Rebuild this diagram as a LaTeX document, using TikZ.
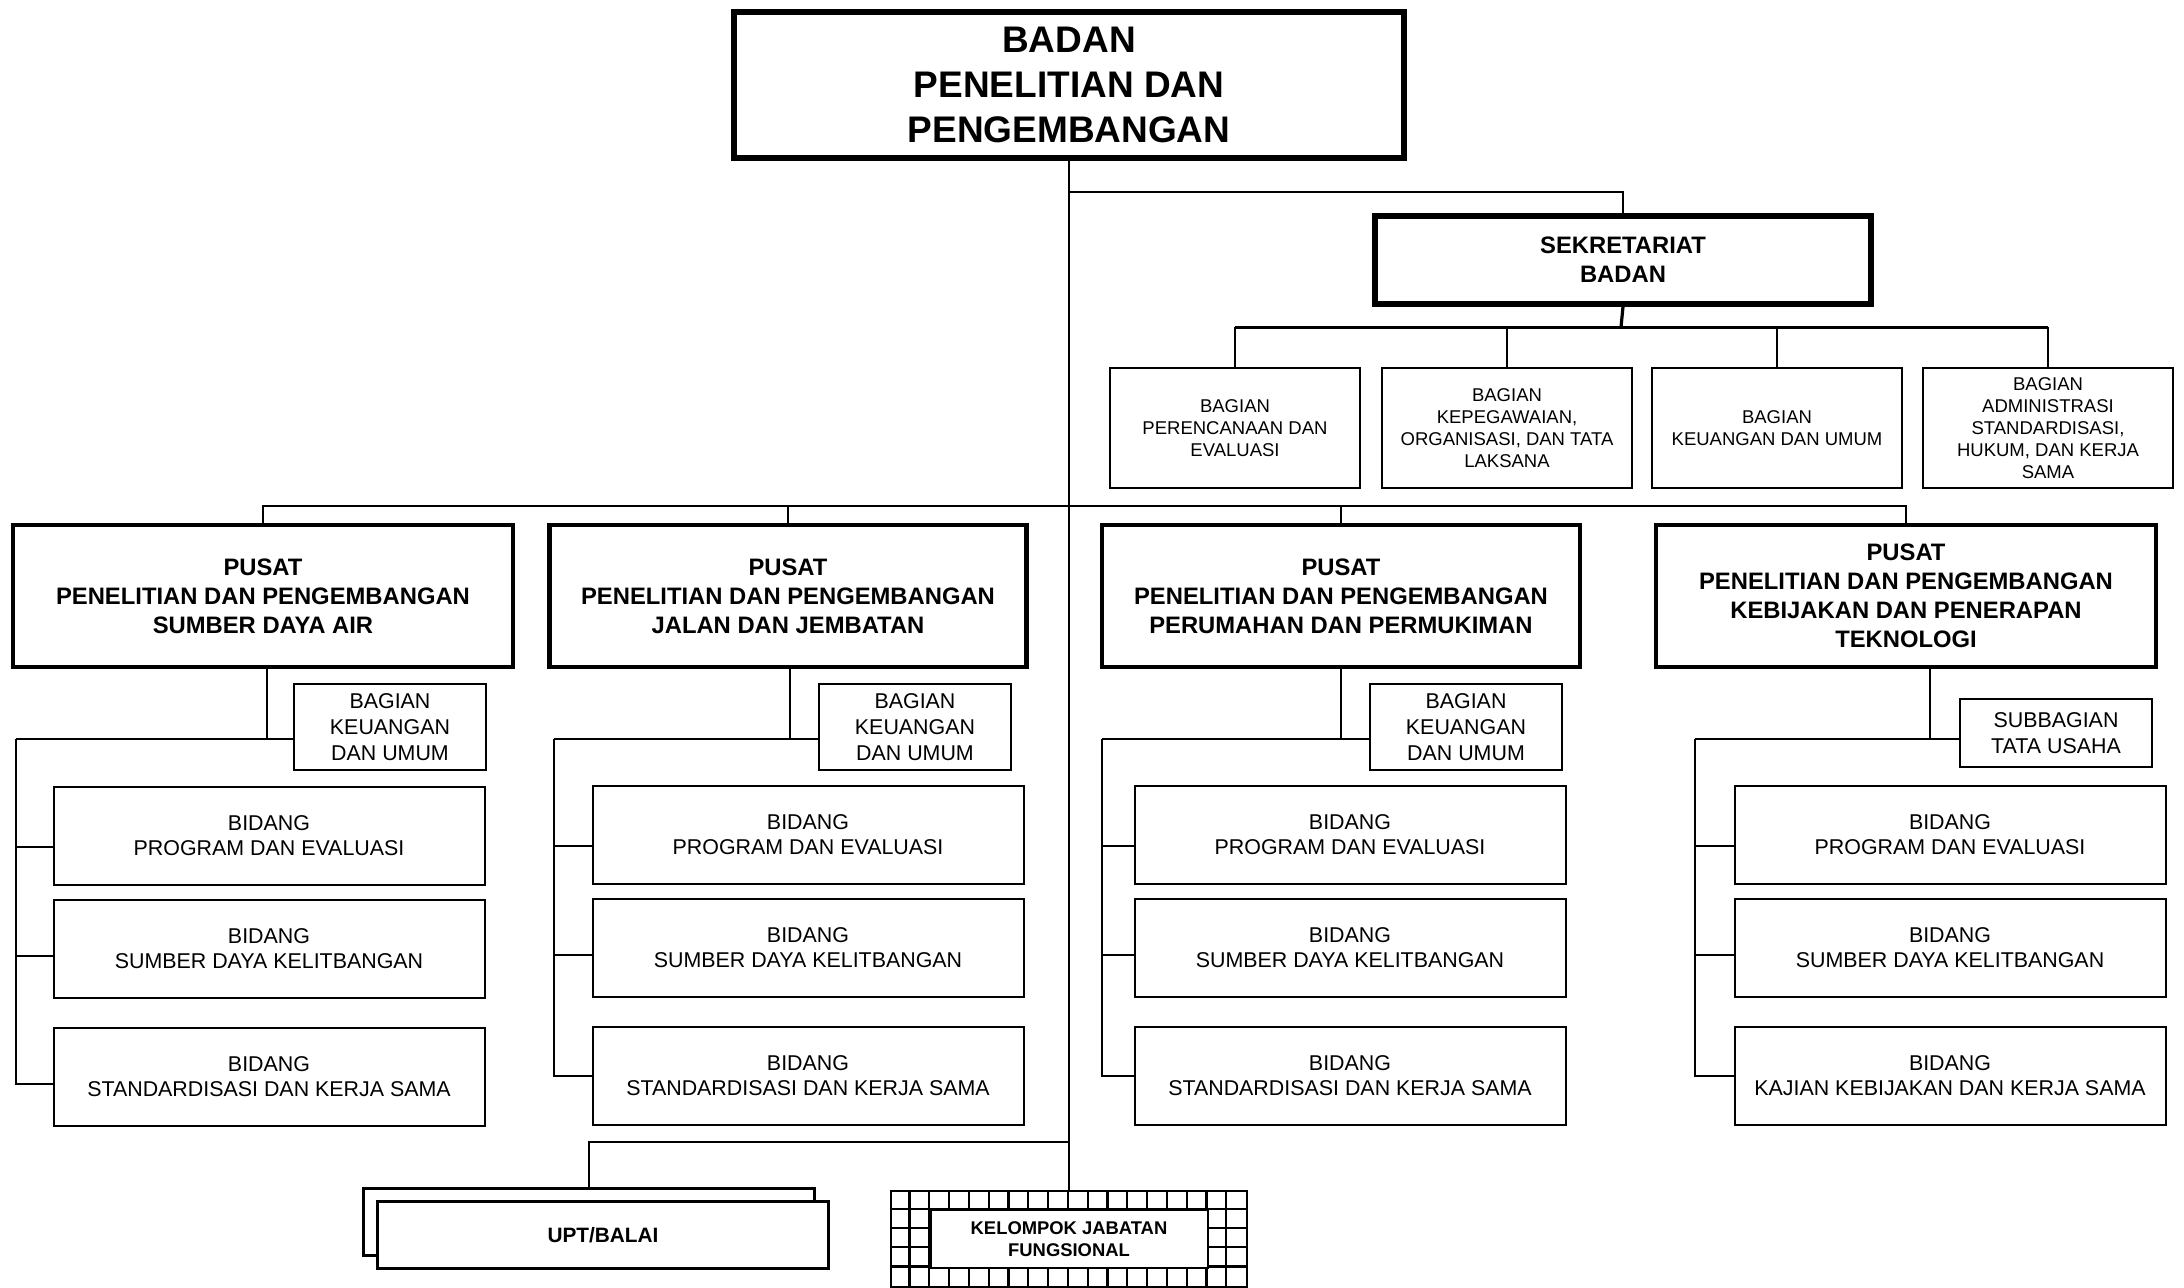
\documentclass[tikz,border=0pt]{standalone}
\usepackage{fontspec}
\setmainfont{Liberation Sans}
\usetikzlibrary{positioning}

\begin{document}
\begin{tikzpicture}[x=0.5pt, y=-0.5pt, node distance=7pt,
  kepala/.style={draw, line width=3pt, align=center, inner sep=0pt, font=\bfseries\fontsize{18.5}{22.3}\selectfont},
  pusat/.style={draw, line width=2.2pt, align=center, inner sep=0pt, minimum height=71pt, font=\bfseries\fontsize{11.9}{14.5}\selectfont},
  bagian/.style={draw, line width=1pt, align=center, inner sep=0pt, minimum width=125pt, minimum height=60pt, font=\fontsize{9.25}{11}\selectfont},
  keuangan/.style={draw, line width=1pt, align=center, inner sep=0pt, minimum width=96pt, minimum height=43pt, font=\fontsize{10.7}{13}\selectfont},
  bidang/.style={draw, line width=1pt, align=center, inner sep=0pt, minimum width=215.5pt, minimum height=49pt, font=\fontsize{10.7}{12.5}\selectfont},
  upt/.style={draw, line width=1.3pt, fill=white, inner sep=0pt, minimum width=225.5pt, minimum height=33.5pt, font=\bfseries\fontsize{10.4}{12}\selectfont},
  garis/.style={line width=1pt}]
\useasboundingbox (0,0) rectangle (2184,1287);

% pimpinan dan sekretariat
\node[kepala, minimum width=335pt, minimum height=73pt] (badan) at (1069,85) {BADAN\\PENELITIAN DAN\\PENGEMBANGAN};
\node[pusat, line width=2.8pt, minimum width=248pt, minimum height=44pt] (sekr) at (1623,260) {SEKRETARIAT\\BADAN};

\node[bagian] (bg1) at (1235,428) {BAGIAN\\PERENCANAAN DAN\\EVALUASI};
\node[bagian] (bg2) at (1507,428) {BAGIAN\\KEPEGAWAIAN,\\ORGANISASI, DAN TATA\\LAKSANA};
\node[bagian] (bg3) at (1777,428) {BAGIAN\\KEUANGAN DAN UMUM};
\node[bagian] (bg4) at (2048,428) {BAGIAN\\ADMINISTRASI\\STANDARDISASI,\\HUKUM, DAN KERJA\\SAMA};

% pusat-pusat
\node[pusat, minimum width=250pt] (p1) at (263,596) {PUSAT\\PENELITIAN DAN PENGEMBANGAN\\SUMBER DAYA AIR};
\node[pusat, minimum width=238.5pt] (p2) at (788,596) {PUSAT\\PENELITIAN DAN PENGEMBANGAN\\JALAN DAN JEMBATAN};
\node[pusat, minimum width=239pt] (p3) at (1341,596) {PUSAT\\PENELITIAN DAN PENGEMBANGAN\\PERUMAHAN DAN PERMUKIMAN};
\node[pusat, minimum width=250pt] (p4) at (1906,596) {PUSAT\\PENELITIAN DAN PENGEMBANGAN\\KEBIJAKAN DAN PENERAPAN\\TEKNOLOGI};

\node[keuangan] (k1) at (390,727) {BAGIAN\\KEUANGAN\\DAN UMUM};
\node[keuangan] (k2) at (915,727) {BAGIAN\\KEUANGAN\\DAN UMUM};
\node[keuangan] (k3) at (1466,727) {BAGIAN\\KEUANGAN\\DAN UMUM};
\node[keuangan, minimum height=34pt] (k4) at (2056,733) {SUBBAGIAN\\TATA USAHA};

% bidang
\node[bidang] (d11) at (269,836) {BIDANG\\PROGRAM DAN EVALUASI};
\node[bidang, below=6.5pt of d11] (d12) {BIDANG\\SUMBER DAYA KELITBANGAN};
\node[bidang, below=14pt of d12] (d13) {BIDANG\\STANDARDISASI DAN KERJA SAMA};

\node[bidang] (d21) at (808,835) {BIDANG\\PROGRAM DAN EVALUASI};
\node[bidang, below=6.5pt of d21] (d22) {BIDANG\\SUMBER DAYA KELITBANGAN};
\node[bidang, below=14pt of d22] (d23) {BIDANG\\STANDARDISASI DAN KERJA SAMA};

\node[bidang] (d31) at (1350,835) {BIDANG\\PROGRAM DAN EVALUASI};
\node[bidang, below=6.5pt of d31] (d32) {BIDANG\\SUMBER DAYA KELITBANGAN};
\node[bidang, below=14pt of d32] (d33) {BIDANG\\STANDARDISASI DAN KERJA SAMA};

\node[bidang] (d41) at (1950,835) {BIDANG\\PROGRAM DAN EVALUASI};
\node[bidang, below=6.5pt of d41] (d42) {BIDANG\\SUMBER DAYA KELITBANGAN};
\node[bidang, below=14pt of d42] (d43) {BIDANG\\KAJIAN KEBIJAKAN DAN KERJA SAMA};

% UPT dan jabatan fungsional
\node[upt] (uptb) at (589,1222) {};
\node[upt] (upt) at ([xshift=7pt, yshift=-6.5pt]uptb.center) {UPT/BALAI};

\node[draw, line width=1.4pt, minimum width=178pt, minimum height=48pt, inner sep=0pt] (kjf) at (1069,1239) {};
\foreach \i in {1,...,17}
  \draw[line width=1.1pt] ([xshift=\i*9.9pt]kjf.north west) -- ([xshift=\i*9.9pt]kjf.south west);
\foreach \j in {1,...,4}
  \draw[line width=1.1pt] ([yshift=-\j*9.6pt]kjf.north west) -- ([yshift=-\j*9.6pt]kjf.north east);
\node[draw, line width=1.1pt, fill=white, align=center, inner sep=0pt, minimum width=138.6pt, minimum height=28.8pt, font=\bfseries\fontsize{9.2}{11}\selectfont] (kjftext) at (kjf.center) {KELOMPOK JABATAN\\FUNGSIONAL};

% garis komando
\draw[garis] (badan.south) -- (badan.south |- kjf.north);

\coordinate (cs) at (1069,192);
\draw[garis] (cs) -| (sekr.north);
\coordinate (cb) at (1621,327);
\draw[line width=1.6pt] (sekr.south) -- (cb);
\draw[line width=1.5pt] (bg1.north |- cb) -- (bg4.north |- cb);
\foreach \n in {bg1,bg2,bg3,bg4}
  \draw[garis] (\n.north |- cb) -- (\n.north);

\coordinate (cp) at (1069,506);
\foreach \n in {p1,p2,p3,p4}
  \draw[garis] (cp) -| (\n.north);

% tiap pusat: garis ke bagian dan ke bidang
\foreach \i/\lx/\dx/\dy in {1/16/2pt/3.5pt, 2/554/1pt/0pt, 3/1102/0pt/0pt, 4/1695/12pt/0pt} {
  \coordinate (a\i) at (\lx,739);
  \draw[garis] ([xshift=\dx]p\i.south) -- ([xshift=\dx]p\i.south |- a\i);
  \draw[garis] (a\i) -- (k\i.west |- a\i);
  \draw[garis] (a\i) |- ([yshift=-\dy]d\i3.west);
  \draw[garis] (a\i |- d\i1.west) ++(0,11) -- ([yshift=-5.5pt]d\i1.west);
  \draw[garis] (a\i |- d\i2.west) ++(0,7) -- ([yshift=-3.5pt]d\i2.west);
}

\coordinate (cu) at (1069,1142);
\draw[garis] (cu) -| (uptb.north);
\end{tikzpicture}
\end{document}
